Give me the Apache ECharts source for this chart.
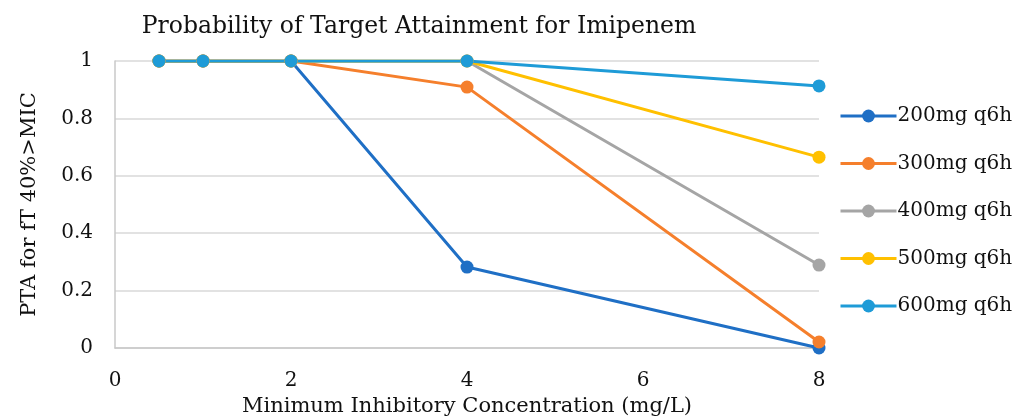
<!DOCTYPE html>
<html><head><meta charset="utf-8">
<script src="https://cdn.jsdelivr.net/npm/echarts@6/dist/echarts.min.js"></script>
<style>html,body{margin:0;padding:0;background:#fff}#c{width:1025px;height:417px}</style>
</head><body><div id="c"></div>
<script>
const mic = [0.5, 1, 2, 4, 8];
const seriesNames = ['200mg q6h', '300mg q6h', '400mg q6h', '500mg q6h', '600mg q6h'];
const pta200 = [1, 1, 1, 0.282, 0.0];
const pta300 = [1, 1, 1, 0.909, 0.021];
const pta400 = [1, 1, 1, 1, 0.289];
const pta500 = [1, 1, 1, 1, 0.665];
const pta600 = [1, 1, 1, 1, 0.913];
const colors = ['#1f6fc5', '#f57f2c', '#a5a5a5', '#ffc000', '#1e9bd7'];
const allVals = [pta200, pta300, pta400, pta500, pta600];
const font = 'DejaVu Serif';
const chart = echarts.init(document.getElementById('c'));
chart.setOption({
  animation: false,
  title: { text: 'Probability of Target Attainment for Imipenem', left: 414, top: 10, textAlign: 'center',
    textStyle: { fontFamily: font, fontSize: 23.5, fontWeight: 'normal', color: '#111' } },
  grid: { left: 115, right: 206, top: 61, bottom: 69, outerBoundsMode: 'none', containLabel: false },
  legend: {
    orient: 'vertical', left: 834, top: 101, itemGap: 27.5, itemWidth: 56, itemHeight: 16,
    data: seriesNames,
    lineStyle: { width: 3 },
    textStyle: { fontFamily: font, fontSize: 20, color: '#111', padding: [0,0,0,-4] }
  },
  xAxis: {
    type: 'value', min: 0, max: 8, interval: 2,
    name: 'Minimum Inhibitory Concentration (mg/L)', nameLocation: 'middle', nameGap: 47,
    nameTextStyle: { fontFamily: font, fontSize: 21, color: '#111' },
    axisLine: { show: true, lineStyle: { color: '#c8c8c8', width: 1.5 } },
    axisTick: { show: false }, splitLine: { show: false },
    axisLabel: { fontFamily: font, fontSize: 20, color: '#111', margin: 23 }
  },
  yAxis: {
    type: 'value', min: 0, max: 1, interval: 0.2,
    name: 'PTA for fT 40%>MIC', nameLocation: 'middle', nameGap: 75, nameRotate: 90,
    nameTextStyle: { fontFamily: font, fontSize: 21, color: '#111' },
    axisLine: { show: true, lineStyle: { color: '#c8c8c8', width: 1.5 } },
    axisTick: { show: false },
    splitLine: { lineStyle: { color: '#d9d9d9', width: 1.5 } },
    axisLabel: { fontFamily: font, fontSize: 20, color: '#111', margin: 22 }
  },
  series: seriesNames.map((n, i) => ({
    name: n, type: 'line', data: mic.map((x, j) => [x, allVals[i][j]]),
    color: colors[i], symbol: 'circle', symbolSize: 13,
    lineStyle: { width: 3 }, itemStyle: { color: colors[i] }
  }))
});
</script></body></html>
